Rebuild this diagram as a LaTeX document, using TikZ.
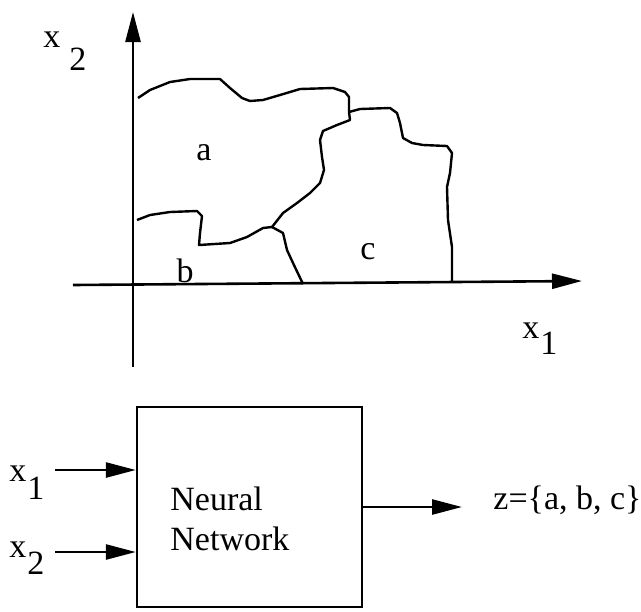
\documentclass[tikz,border=0pt]{standalone}
\usepackage{fontspec}
\setmainfont{Liberation Serif}
\usetikzlibrary{arrows.meta}

\begin{document}
\begin{tikzpicture}[
  x=0.5pt, y=-0.5pt,
  >={Triangle[length=15pt, width=7.5pt]},
  axis/.style   = {line width=1.3pt},
  border/.style = {line width=1.2pt, line join=round},
  txt/.style    = {font=\fontsize{17}{20}\selectfont, inner sep=0pt},
  block/.style  = {draw, line width=1.2pt, minimum width=112.5pt, minimum height=100pt},
]
  \useasboundingbox (0,0) rectangle (641,611);

  % axes of the feature plane
  \coordinate (ybot)  at (133,367);
  \coordinate (ytop)  at (133,12);
  \coordinate (xleft) at (73,285);
  \coordinate (xrght) at (582,281);
  \draw[axis,->] (ybot)  -- (ytop);
  \draw[axis,->] (xleft) -- (xrght);

  \node[txt, anchor=base west] (xtwo) at (43,47)  {x\kern4.5pt\raisebox{-11.5pt}{2}};
  \node[txt, anchor=base west] (xone) at (522,338) {x\kern0.5pt\raisebox{-8pt}{1}};

  % class regions
  \draw[border] (138,98) -- (150,90) -- (170,82) -- (190,79) -- (220,79) -- (230,88)
    -- (242,98) -- (250,101) -- (263,100) -- (280,95) -- (300,89) -- (333,88)
    -- (345,92) -- (349,97) -- (349,112) -- (350,120) -- (337,125) -- (323,131)
    -- (320,140) -- (322,157) -- (324,170) -- (320,183) -- (310,193) -- (297,203)
    -- (283,213) -- (272,227);
  \draw[border] (137,220) -- (150,215) -- (170,212) -- (197,211) -- (202,216)
    -- (200,233) -- (199,245) -- (230,243) -- (247,237) -- (263,228) -- (272,227);
  \draw[border] (272,227) -- (283,233) -- (287,250) -- (293,263) -- (303,284);
  \draw[border] (349,112) -- (360,109) -- (390,108) -- (397,113) -- (400,123)
    -- (403,138) -- (412,143) -- (423,145) -- (447,146) -- (452,153) -- (450,173)
    -- (447,187) -- (448,220) -- (452,247) -- (452,282);

  \node[txt] (la) at (204,153) {a};
  \node[txt] (lb) at (185,271) {b};
  \node[txt] (lc) at (368,252) {c};

  % classifier block
  \node[block] (nn) at (249.5,507) {};
  \node[txt, anchor=west, align=left] (nntxt) at (170,519) {Neural\\Network};

  \coordinate (in1) at (55,470);
  \coordinate (in2) at (55,552);
  \coordinate (out) at (462,507);
  \draw[axis,->] (in1) -- (in1 -| nn.west);
  \draw[axis,->] (in2) -- (in2 -| nn.west);
  \draw[axis,->] (nn.east) -- (out);

  \node[txt, anchor=base west] (xin1) at (9,481) {x\kern0.5pt\raisebox{-9pt}{1}};
  \node[txt, anchor=base west] (xin2) at (9,557) {x\kern0.5pt\raisebox{-8.5pt}{2}};
  \node[txt, anchor=west]      (zout) at (493,500) {z=\{a, b, c\}};
\end{tikzpicture}
\end{document}
